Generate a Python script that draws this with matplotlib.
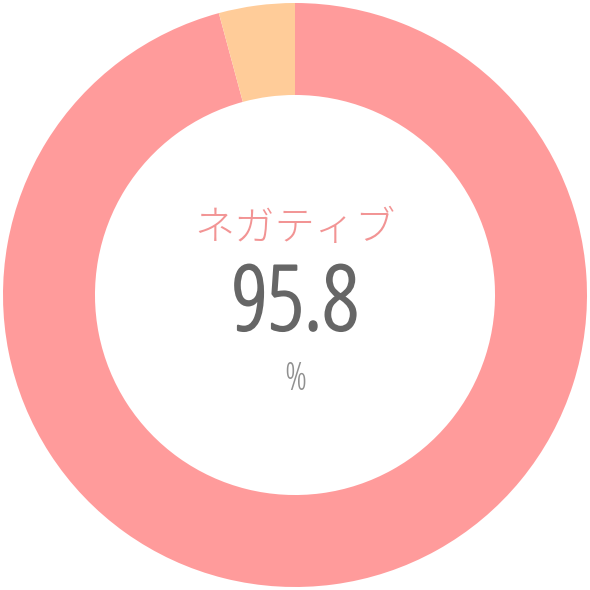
import matplotlib
matplotlib.use("Agg")
import matplotlib.pyplot as plt
import matplotlib.patheffects as pe

# data
labels = ["ネガティブ", "ポジティブ"]
values = [95.8, 4.2]
colors = ["#FF9B9B", "#FFCC99"]
center_label = labels[0]
center_value = "95.8"
unit = "%"

plt.rcParams["font.family"] = ["Noto Sans CJK JP", "DejaVu Sans"]

fig = plt.figure(figsize=(5.9, 5.9), dpi=100)
ax = fig.add_axes([0, 0, 1, 1])

ax.pie(values, colors=colors, startangle=90, counterclock=False,
       radius=1.0, wedgeprops=dict(width=0.315, edgecolor="none"))

lim = 295 / 292
ax.set_xlim(-lim, lim)
ax.set_ylim(-lim, lim)
ax.set_aspect("equal")
ax.axis("off")

ax.text(0, 0.225, center_label, ha="center", va="center",
        fontsize=29, color="#F29494", fontweight="light")
# condensed font for the number and unit
ax.text(0, -0.12, center_value, ha="center", va="baseline",
        fontsize=65, color="#666666", family="Open Sans",
        fontstretch="condensed", fontweight=300,
        path_effects=[pe.withStroke(linewidth=1.6, foreground="#666666")])
ax.text(0, -0.325, unit, ha="center", va="baseline",
        fontsize=27, color="#909090", family="Open Sans",
        fontstretch="condensed", fontweight=300)

fig.savefig("out.png", dpi=100, facecolor="white")
